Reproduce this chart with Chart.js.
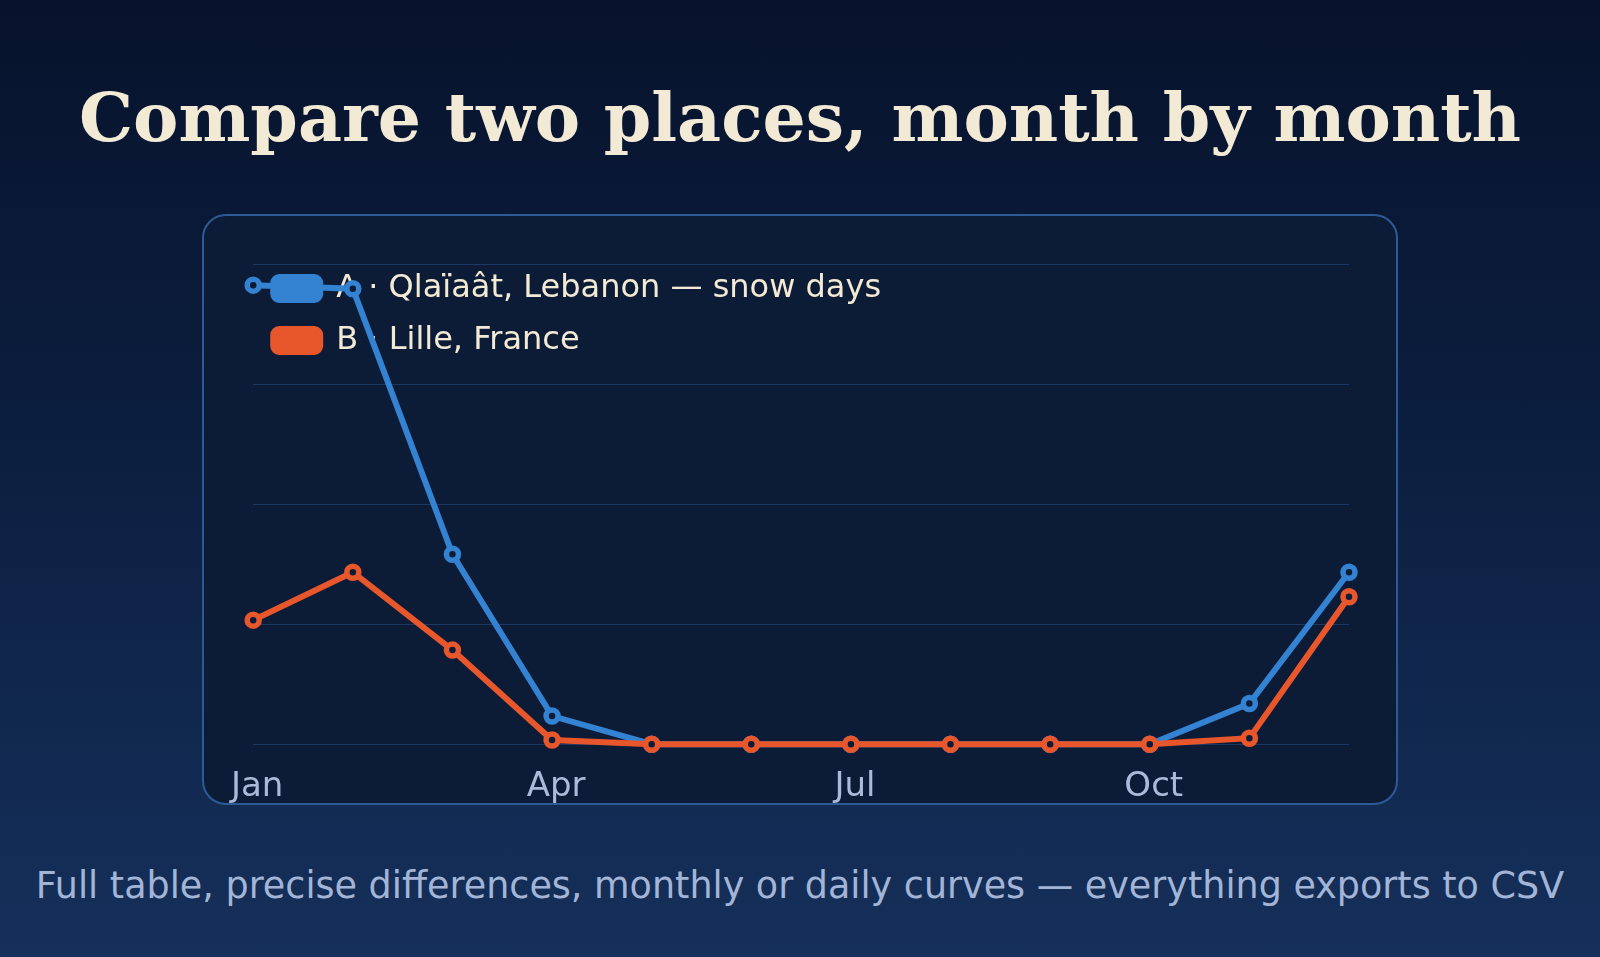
<!DOCTYPE html>
<html>
<head>
<meta charset="utf-8">
<script src="https://cdn.jsdelivr.net/npm/chart.js@4.4.1/dist/chart.umd.min.js"></script>
<style>
  html, body {
    margin: 0;
    padding: 0;
    width: 1600px;
    height: 957px;
    overflow: hidden;
  }
  body {
    background: linear-gradient(180deg, #07132c 0%, #0c1e3f 45%, #15305b 100%);
    position: relative;
    font-family: "DejaVu Sans", sans-serif;
  }
  h1 {
    position: absolute;
    left: 0;
    top: 72px;
    width: 1600px;
    margin: 0;
    text-align: center;
    font-family: "DejaVu Serif", serif;
    font-weight: bold;
    font-size: 68px;
    line-height: 90px;
    color: #f3ead6;
  }
  .panel {
    position: absolute;
    left: 202px;
    top: 214px;
    width: 1196px;
    height: 591px;
    box-sizing: border-box;
    border: 2px solid #2c5a96;
    border-radius: 24px;
    background: #0c1c37;
    overflow: hidden;
  }
  #compareChart {
    display: block;
  }
  .sub {
    position: absolute;
    left: 0;
    top: 866px;
    width: 1600px;
    text-align: center;
    font-size: 36.5px;
    line-height: 40px;
    color: #a3b5d6;
  }
</style>
</head>
<body>
<h1>Compare two places, month by month</h1>
<div class="panel">
  <canvas id="compareChart" width="1192" height="587"></canvas>
</div>
<div class="sub">Full table, precise differences, monthly or daily curves — everything exports to CSV</div>

<script>
  const months = ["Jan", "Feb", "Mar", "Apr", "May", "Jun", "Jul", "Aug", "Sep", "Oct", "Nov", "Dec"];
  const shownMonths = ["Jan", "Apr", "Jul", "Oct"];

  const labelA = "A · Qlaïaât, Lebanon — snow days";
  const labelB = "B · Lille, France";

  // snow days per month
  const snowA = [7.66, 7.6, 3.17, 0.47, 0, 0, 0, 0, 0, 0, 0.68, 2.87];
  const snowB = [2.07, 2.87, 1.57, 0.07, 0, 0, 0, 0, 0, 0, 0.1, 2.46];

  const blue = "#3482d2";
  const orange = "#e8562b";
  const panelBg = "#0c1c37";

  const ctx = document.getElementById("compareChart").getContext("2d");

  new Chart(ctx, {
    type: "line",
    data: {
      labels: months,
      datasets: [
        {
          label: labelA,
          data: snowA,
          borderColor: blue,
          backgroundColor: blue,
          borderWidth: 6,
          pointRadius: 6,
          pointBorderWidth: 5.5,
          pointBackgroundColor: panelBg,
          pointBorderColor: blue,
          tension: 0,
          clip: false,
          order: 1
        },
        {
          label: labelB,
          data: snowB,
          borderColor: orange,
          backgroundColor: orange,
          borderWidth: 6,
          pointRadius: 6,
          pointBorderWidth: 5.5,
          pointBackgroundColor: panelBg,
          pointBorderColor: orange,
          tension: 0,
          clip: false,
          order: 0
        }
      ]
    },
    options: {
      responsive: false,
      animation: false,
      layout: {
        autoPadding: false,
        padding: { left: 48, right: 47, top: 38, bottom: -28 }
      },
      plugins: {
        tooltip: { enabled: false },
        legend: {
          position: "chartArea",
          align: "start",
          // empty title only pushes the rows down inside the plot
          title: {
            display: true,
            text: " ",
            color: "rgba(0,0,0,0)",
            font: { size: 10 },
            padding: { top: 24.5, bottom: 0 }
          },
          labels: {
            color: "#f3ead6",
            font: { family: "DejaVu Sans", size: 32 },
            boxWidth: 47,
            boxHeight: 23,
            padding: 20,
            useBorderRadius: true,
            borderRadius: 6,
            sort: (a, b) => a.datasetIndex - b.datasetIndex
          }
        }
      },
      scales: {
        x: {
          grid: { display: false, drawTicks: false },
          border: { display: false },
          ticks: {
            color: "#a9bbd9",
            font: { family: "DejaVu Sans", size: 34 },
            padding: 23,
            labelOffset: 4,
            autoSkip: false,
            maxRotation: 0,
            callback: function (value) {
              const name = this.getLabelForValue(value);
              return shownMonths.includes(name) ? name : "";
            }
          }
        },
        y: {
          min: 0,
          max: 8.18,
          border: { display: false },
          grid: { color: "#1d3963", lineWidth: 1, drawTicks: false },
          ticks: { display: false, stepSize: 2, includeBounds: false }
        }
      }
    }
  });
</script>
</body>
</html>
